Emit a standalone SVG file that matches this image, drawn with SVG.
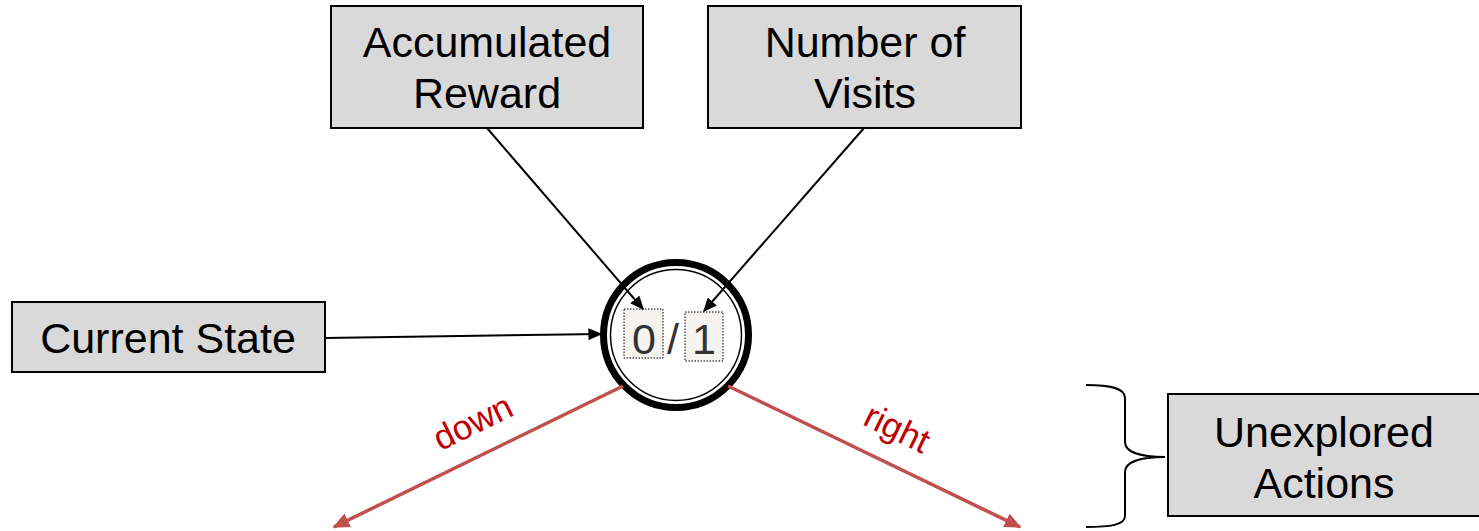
<svg xmlns="http://www.w3.org/2000/svg" width="1479" height="531" viewBox="0 0 1479 531">
  <style>
    .box { fill: #d9d9d9; stroke: #000; stroke-width: 2; }
    .lbl { font-family: "Liberation Sans", Arial, sans-serif; font-size: 43px; fill: #000; text-anchor: middle; }
    .conn { stroke: #000; stroke-width: 2; fill: none; }
    .act { stroke: #c0504d; stroke-width: 3.5; fill: none; }
    .actlbl { font-family: "Liberation Sans", Arial, sans-serif; font-size: 35px; fill: #c00000; text-anchor: middle; }
    .slot { fill: #f4f3ef; stroke: #000; stroke-width: 1; stroke-dasharray: 1.5 1.5; }
    .num { font-family: "Liberation Sans", Arial, sans-serif; font-size: 43px; fill: #333; text-anchor: middle; }
  </style>
  <defs>
    <marker id="blk" viewBox="0 0 10 10" refX="9" refY="5" markerWidth="14" markerHeight="12" markerUnits="userSpaceOnUse" orient="auto" preserveAspectRatio="none">
      <path d="M0,0 L10,5 L0,10 z" fill="#000"/>
    </marker>
    <marker id="red" viewBox="0 0 10 10" refX="9" refY="5" markerWidth="17" markerHeight="15" markerUnits="userSpaceOnUse" orient="auto" preserveAspectRatio="none">
      <path d="M0,0 L10,5 L0,10 z" fill="#c0504d"/>
    </marker>
  </defs>

  <g id="accumulated-reward">
    <rect class="box" x="331" y="6" width="312" height="122"/>
    <text class="lbl" x="487" y="57">Accumulated</text>
    <text class="lbl" x="487" y="108">Reward</text>
  </g>

  <g id="number-of-visits">
    <rect class="box" x="708" y="6" width="313" height="122"/>
    <text class="lbl" x="865" y="57">Number of</text>
    <text class="lbl" x="865" y="108">Visits</text>
  </g>

  <g id="current-state">
    <rect class="box" x="12" y="302" width="313" height="70"/>
    <text class="lbl" x="168" y="353">Current State</text>
  </g>

  <g id="unexplored-actions">
    <rect class="box" x="1168" y="394" width="312" height="122"/>
    <text class="lbl" x="1324" y="447">Unexplored</text>
    <text class="lbl" x="1324" y="498">Actions</text>
  </g>

  <g id="state-node">
    <circle cx="676" cy="335" r="72.5" fill="#fff" stroke="#000" stroke-width="7"/>
    <circle cx="676" cy="335" r="65.5" fill="none" stroke="#000" stroke-width="1.5"/>
    <rect class="slot" x="624" y="309" width="39" height="49"/>
    <rect class="slot" x="685" y="312" width="38" height="49"/>
    <text class="num" x="644" y="354">0</text>
    <text class="num" x="673" y="354">/</text>
    <text class="num" x="704" y="354">1</text>
  </g>

  <g id="brace">
    <path d="M1086,385 C1110,385 1125,388 1125,398 L1125,442 C1125,452 1140,457 1165,457 C1140,457 1125,462 1125,472 L1125,516 C1125,525 1110,527 1086,527" fill="none" stroke="#000" stroke-width="2"/>
  </g>

  <g id="connectors">
    <line class="conn" x1="487" y1="128" x2="643" y2="309" marker-end="url(#blk)"/>
    <line class="conn" x1="864" y1="128" x2="704" y2="311" marker-end="url(#blk)"/>
    <line class="conn" x1="325" y1="338" x2="601" y2="334" marker-end="url(#blk)"/>
    <line class="act" x1="623" y1="386" x2="334" y2="527" marker-end="url(#red)"/>
    <line class="act" x1="728" y1="386" x2="1020" y2="527" marker-end="url(#red)"/>
    <text class="actlbl" transform="translate(478,433) rotate(-26)">down</text>
    <text class="actlbl" transform="translate(892,439) rotate(26)">right</text>
  </g>
</svg>
